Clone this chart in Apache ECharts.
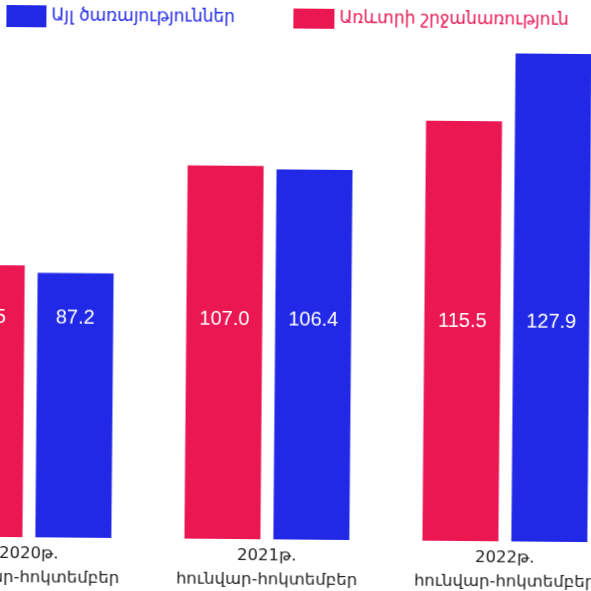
<!DOCTYPE html>
<html><head><meta charset="utf-8">
<script src="https://cdn.jsdelivr.net/npm/echarts@6/dist/echarts.min.js"></script>
<style>html,body{margin:0;padding:0;background:#fff;overflow:hidden;width:591px;height:591px;position:relative}
#c{position:absolute;left:-88px;top:0;width:714px;height:591px;transform:rotate(0.5deg);transform-origin:207px 295px}</style>
</head><body><div id="c"></div>
<script>
const categories = ['2020թ.\nհունվար-հոկտեմբեր', '2021թ.\nհունվար-հոկտեմբեր', '2022թ.\nհունվար-հոկտեմբեր'];
const tradeName = 'Առևտրի շրջանառություն';
const otherName = 'Այլ ծառայություններ';
const tradeValues = [88.5, 107.0, 115.5];
const otherValues = [87.2, 106.4, 127.9];
const RED = '#ea1752', BLUE = '#2229e6';
const chart = echarts.init(document.getElementById('c'), null, {renderer: 'canvas'});
const lbl = {show: true, position: 'insideBottom', distance: 210, color: '#fff', fontSize: 20,
  fontFamily: 'Liberation Sans, Arial, sans-serif', formatter: p => p.value.toFixed(1)};
chart.setOption({
  backgroundColor: '#fff',
  animation: false,
  legend: [
    {left: 87, top: 1, itemWidth: 40, itemHeight: 22, icon: 'rect', selectedMode: false,
     data: [{name: otherName, textStyle: {color: BLUE}}],
     textStyle: {fontSize: 17, fontFamily: 'DejaVu Sans, Noto Sans, sans-serif'}},
    {left: 374, top: 2, itemWidth: 41, itemHeight: 20, icon: 'rect', selectedMode: false,
     data: [{name: tradeName, textStyle: {color: RED}}],
     textStyle: {fontSize: 17, fontFamily: 'DejaVu Sans, Noto Sans, sans-serif'}}
  ],
  grid: {left: 0, right: 0, top: 0, bottom: 42, containLabel: false},
  xAxis: {type: 'category', data: categories,
    axisLine: {show: false}, axisTick: {show: false},
    axisLabel: {color: '#222', fontSize: 16.5, lineHeight: 24, margin: 5, interval: 0,
      fontFamily: 'DejaVu Sans, Noto Sans, sans-serif'}},
  yAxis: {type: 'value', min: 39, max: 137, show: false, splitLine: {show: false}},
  series: [
    {name: tradeName, type: 'bar', data: tradeValues, barWidth: 76, barGap: '17%',
     itemStyle: {color: RED}, label: lbl},
    {name: otherName, type: 'bar', data: otherValues, barWidth: 76, barGap: '17%',
     itemStyle: {color: BLUE}, label: lbl}
  ]
});
</script></body></html>
